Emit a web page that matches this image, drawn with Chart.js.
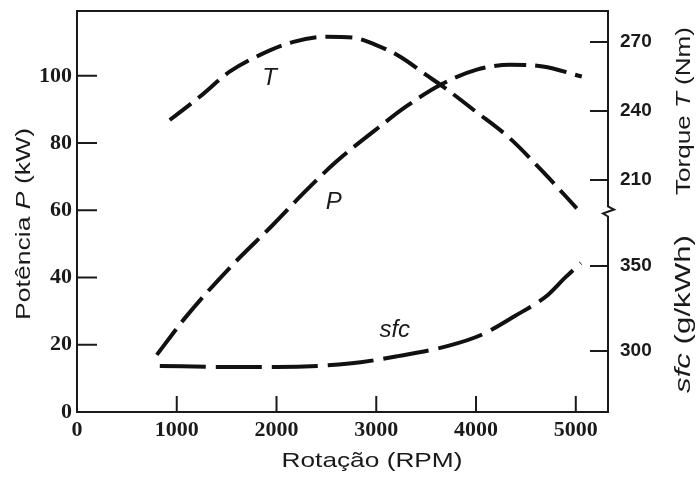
<!DOCTYPE html>
<html>
<head>
<meta charset="utf-8">
<script src="https://cdn.jsdelivr.net/npm/chart.js@4"></script>
<style>
  html, body { margin: 0; padding: 0; background: #fff; }
  #wrap { width: 698px; height: 478px; position: relative; }
</style>
</head>
<body>
<div id="wrap"><canvas id="c"></canvas></div>
<script>
// ---- data ----
const rpmTicks = [0, 1000, 2000, 3000, 4000, 5000];
const powerTicks = [0, 20, 40, 60, 80, 100];
const torqueTicks = [210, 240, 270];
const sfcTicks = [300, 350];

const rpmT = [930, 1230, 1530, 1830, 2170, 2500, 2770, 3000, 3240, 3500, 3670, 4000, 4340, 4670, 5010];
const torque = [236.1, 246.2, 257.1, 264.3, 270.1, 272.3, 271.9, 268.7, 263.6, 255.7, 250.6, 239.7, 228.1, 213.6, 197.7];

const rpmP = [800, 1100, 1560, 1965, 2270, 2600, 2970, 3300, 3640, 4000, 4340, 4670, 5060];
const power = [17, 28.6, 43.8, 55.7, 65.1, 74.5, 83.4, 90.9, 97.3, 101.8, 103.3, 102.8, 99.8];

const rpmS = [830, 1500, 2000, 2730, 3220, 3720, 4050, 4390, 4720, 4890, 5050];
const sfc = [291.2, 290.6, 290.6, 292.6, 297, 303, 309.4, 320.6, 333, 343, 351.8];

const curveLabels = [
  { text: 'T', x: 1930, y: 254.3, axis: 'yT' },
  { text: 'P', x: 2575, y: 62.5, axis: 'y' },
  { text: 'sfc', x: 3185, y: 312.4, axis: 'yS' }
];

// ---- helpers ----
const INK = '#1a1a1a';
const pts = (xs, ys) => xs.map((x, i) => ({ x: x, y: ys[i] }));
const setTicks = arr => scale => { scale.ticks = arr.map(v => ({ value: v })); };
const fitV = w => sc => { sc.width = w; sc.paddingTop = 0; sc.paddingBottom = 0; };
const fitH = h => sc => { sc.height = h; sc.paddingLeft = 0; sc.paddingRight = 0; };

function drawRich(ctx, parts, x, y, rot, size, span) {
  ctx.save();
  ctx.translate(x, y);
  ctx.rotate(rot);
  ctx.textBaseline = 'alphabetic';
  ctx.textAlign = 'left';
  ctx.fillStyle = INK;
  let total = 0;
  const widths = parts.map(p => {
    ctx.font = (p.italic ? 'italic ' : '') + size + 'px "Liberation Sans", Arial, sans-serif';
    const w = ctx.measureText(p.text).width;
    total += w;
    return w;
  });
  const sx = span / total;
  ctx.scale(sx, 1);
  let cur = -total / 2;
  parts.forEach((p, i) => {
    ctx.font = (p.italic ? 'italic ' : '') + size + 'px "Liberation Sans", Arial, sans-serif';
    ctx.fillText(p.text, cur, 0);
    cur += widths[i];
  });
  ctx.restore();
}

const decor = {
  id: 'decor',
  beforeDraw(chart) {
    const ctx = chart.ctx;
    ctx.save();
    ctx.fillStyle = '#fff';
    ctx.fillRect(0, 0, chart.width, chart.height);
    ctx.restore();
  },
  afterDraw(chart) {
    const ctx = chart.ctx;
    const a = chart.chartArea;
    const s = chart.scales;
    ctx.save();
    ctx.strokeStyle = INK;
    ctx.lineWidth = 2;
    ctx.lineCap = 'butt';
    // frame
    ctx.strokeRect(a.left, a.top, a.right - a.left, a.bottom - a.top);
    // inward ticks
    ctx.beginPath();
    powerTicks.forEach(v => {
      if (v === 0) return;
      const py = s.y.getPixelForValue(v);
      ctx.moveTo(a.left, py); ctx.lineTo(a.left + 20, py);
    });
    rpmTicks.forEach(v => {
      if (v === 0) return;
      const px = s.x.getPixelForValue(v);
      ctx.moveTo(px, a.bottom); ctx.lineTo(px, a.bottom - 16);
    });
    torqueTicks.forEach(v => {
      const py = s.yT.getPixelForValue(v);
      ctx.moveTo(a.right, py); ctx.lineTo(a.right - 18, py);
    });
    sfcTicks.forEach(v => {
      const py = s.yS.getPixelForValue(v);
      ctx.moveTo(a.right, py); ctx.lineTo(a.right - 18, py);
    });
    ctx.stroke();
    // axis break on the right axis, between the two stacked scales
    const by = s.yT.bottom;
    ctx.fillStyle = '#fff';
    ctx.fillRect(a.right - 3, by - 6, 6, 12);
    ctx.beginPath();
    ctx.moveTo(a.right, by - 7);
    ctx.lineTo(a.right, by - 5);
    ctx.lineTo(a.right + 6, by - 2);
    ctx.lineTo(a.right - 5, by + 2);
    ctx.lineTo(a.right, by + 5);
    ctx.lineTo(a.right, by + 7);
    ctx.stroke();
    ctx.restore();

    // curve labels
    ctx.save();
    ctx.fillStyle = INK;
    ctx.textAlign = 'center';
    ctx.textBaseline = 'middle';
    ctx.font = 'italic 24px "Liberation Sans", Arial, sans-serif';
    curveLabels.forEach(l => {
      ctx.fillText(l.text, s.x.getPixelForValue(l.x), s[l.axis].getPixelForValue(l.y));
    });
    ctx.restore();

    // axis titles
    drawRich(ctx, [{ text: 'Potência ' }, { text: 'P', italic: true }, { text: ' (kW)' }],
      30, 224, -Math.PI / 2, 21, 192);
    drawRich(ctx, [{ text: 'Rotação (RPM)' }], 372, 467, 0, 21, 181);
    drawRich(ctx, [{ text: 'Torque ' }, { text: 'T', italic: true }, { text: ' (Nm)' }],
      690, 111, -Math.PI / 2, 21, 168);
    drawRich(ctx, [{ text: 'sfc', italic: true }, { text: ' (g/kWh)' }],
      690, 314, -Math.PI / 2, 22, 158);
  }
};

const serifTick = { family: '"Liberation Serif", "Times New Roman", serif', size: 22, weight: 'bold' };
const sansTick = { family: '"Liberation Sans", Arial, sans-serif', size: 19, weight: 'bold' };
const noGrid = { display: false, drawTicks: false, drawOnChartArea: false };
const lineStyle = { borderColor: '#111', borderWidth: 4, pointRadius: 0, fill: false, cubicInterpolationMode: 'monotone', borderCapStyle: 'butt' };

new Chart(document.getElementById('c'), {
  type: 'line',
  data: {
    datasets: [
      Object.assign({ label: 'T', data: pts(rpmT, torque), yAxisID: 'yT', borderDash: [27, 9] }, lineStyle),
      Object.assign({ label: 'P', data: pts(rpmP, power), yAxisID: 'y', borderDash: [32, 9] }, lineStyle),
      Object.assign({ label: 'sfc', data: pts(rpmS, sfc), yAxisID: 'yS', borderDash: [46, 10] }, lineStyle)
    ]
  },
  options: {
    responsive: true,
    maintainAspectRatio: false,
    animation: false,
    layout: { padding: { top: 11, left: 0, right: 0, bottom: 0 } },
    plugins: { legend: { display: false }, tooltip: { enabled: false }, title: { display: false } },
    scales: {
      x: {
        type: 'linear', position: 'bottom', min: 0, max: 5323,
        afterBuildTicks: setTicks(rpmTicks),
        afterFit: fitH(66),
        grid: noGrid, border: { display: false },
        ticks: { font: serifTick, color: INK, padding: 5, maxRotation: 0, autoSkip: false, callback: v => String(v) }
      },
      y: {
        type: 'linear', position: 'left', min: 0, max: 119.3,
        afterBuildTicks: setTicks(powerTicks),
        afterFit: fitV(77),
        grid: noGrid, border: { display: false },
        ticks: { font: serifTick, color: INK, padding: 5, callback: v => String(v) }
      },
      yT: {
        type: 'linear', position: 'right', stack: 'right', stackWeight: 1, min: 196.3, max: 283.5,
        afterBuildTicks: setTicks(torqueTicks),
        afterFit: fitV(90),
        grid: noGrid, border: { display: false },
        ticks: { font: sansTick, color: INK, padding: 12, callback: v => String(v) }
      },
      yS: {
        type: 'linear', position: 'right', stack: 'right', stackWeight: 1, min: 264.1, max: 382.1,
        afterBuildTicks: setTicks(sfcTicks),
        afterFit: fitV(90),
        grid: noGrid, border: { display: false },
        ticks: { font: sansTick, color: INK, padding: 12, callback: v => String(v) }
      }
    }
  },
  plugins: [decor]
});
</script>
</body>
</html>
